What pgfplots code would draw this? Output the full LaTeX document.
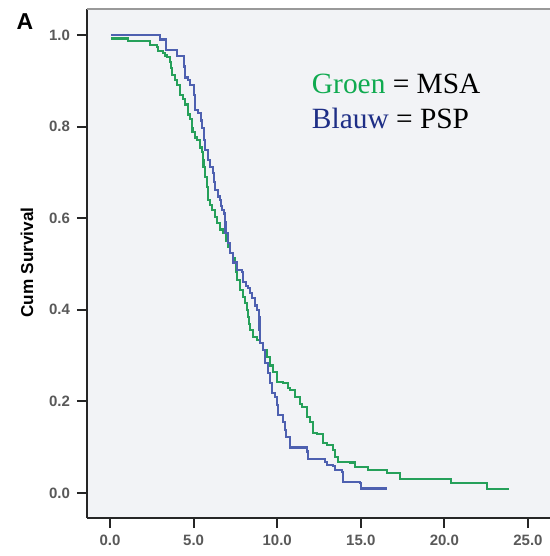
\documentclass[border=0pt]{standalone}
\usepackage{fontspec}
\setmainfont{Liberation Sans}
\newfontfamily\timesfont{Liberation Serif}
\usepackage{pgfplots}
\pgfplotsset{compat=1.18}

\definecolor{msagreen}{RGB}{38,160,90}
\definecolor{pspblue}{RGB}{78,96,176}
\definecolor{txtgreen}{RGB}{16,170,80}
\definecolor{txtblue}{RGB}{30,46,134}
\definecolor{plotbg}{RGB}{242,243,246}

% time (years), cumulative survival
\pgfplotstableread{
t S
0.06 0.993
1.08 0.987
2.39 0.978
2.81 0.974
2.87 0.965
3.17 0.961
3.29 0.956
3.41 0.952
3.59 0.941
3.65 0.928
3.71 0.913
3.89 0.902
4.01 0.891
4.19 0.869
4.37 0.860
4.49 0.849
4.67 0.827
4.78 0.817
4.90 0.797
4.93 0.788
5.08 0.777
5.20 0.771
5.38 0.755
5.50 0.745
5.56 0.727
5.59 0.712
5.68 0.690
5.80 0.668
5.86 0.640
5.98 0.629
6.10 0.618
6.28 0.603
6.40 0.590
6.58 0.576
6.76 0.568
6.94 0.552
7.06 0.537
7.18 0.524
7.36 0.513
7.48 0.502
7.54 0.483
7.60 0.465
7.78 0.443
7.95 0.428
8.07 0.415
8.19 0.400
8.25 0.384
8.31 0.369
8.37 0.356
8.55 0.341
8.79 0.334
8.97 0.328
9.15 0.312
9.39 0.297
9.57 0.279
9.75 0.264
9.99 0.242
10.35 0.240
10.65 0.229
10.77 0.225
11.06 0.210
11.36 0.194
11.48 0.188
11.78 0.166
11.96 0.155
12.14 0.131
12.38 0.129
12.74 0.109
12.98 0.105
13.34 0.094
13.46 0.079
13.64 0.068
14.35 0.066
14.65 0.057
15.43 0.050
16.57 0.044
17.34 0.031
20.39 0.022
22.55 0.009
23.86 0.009
}\msa

\pgfplotstableread{
t S
0.06 1.000
2.99 0.991
3.35 0.967
4.01 0.954
4.43 0.932
4.49 0.908
4.67 0.902
4.78 0.891
5.02 0.869
5.08 0.836
5.26 0.830
5.44 0.814
5.50 0.797
5.62 0.771
5.68 0.749
5.86 0.727
5.98 0.712
6.16 0.699
6.22 0.679
6.28 0.662
6.46 0.648
6.58 0.640
6.64 0.627
6.70 0.618
6.82 0.611
6.88 0.592
6.91 0.568
7.06 0.546
7.18 0.524
7.36 0.504
7.60 0.487
7.89 0.483
7.95 0.461
8.13 0.452
8.25 0.448
8.37 0.437
8.49 0.426
8.67 0.410
8.79 0.400
8.91 0.384
8.94 0.356
8.97 0.328
9.15 0.312
9.27 0.284
9.45 0.262
9.57 0.240
9.69 0.218
9.87 0.210
9.99 0.192
10.05 0.170
10.35 0.155
10.47 0.138
10.53 0.122
10.77 0.100
11.78 0.090
11.84 0.074
12.86 0.068
12.98 0.061
13.34 0.059
13.46 0.050
13.88 0.046
13.94 0.024
14.95 0.022
15.01 0.010
16.57 0.010
}\psp

\begin{document}
\begin{tikzpicture}
\begin{axis}[
  scale only axis,
  width=231.5pt,
  height=254.5pt,
  xmin=-1.376, xmax=26.32,
  ymin=-0.0546, ymax=1.057,
  axis lines=left,
  axis line style={-, line width=1.4pt, color=black!85},
  axis background/.style={fill=plotbg},
  tick align=outside,
  major tick length=5pt,
  tick style={line width=1pt, color=black!85},
  xtick={0,5,10,15,20,25},
  ytick={0,0.2,0.4,0.6,0.8,1.0},
  /pgf/number format/assume math mode=true,
  /pgf/number format/.cd, fixed, fixed zerofill, precision=1,
  /pgfplots/.cd,
  ticklabel style={font=\fontsize{7.5}{9}\selectfont\bfseries, color=black!65},
  ylabel={Cum Survival},
  every axis y label/.style={at={(axis description cs:-0.1296,0.502)}, rotate=90, anchor=center,
    font=\fontsize{8.6}{10}\selectfont\bfseries},
  clip mode=individual,
]
\addplot[const plot, color=msagreen, line width=1.3pt] table[x=t, y=S] {\msa};
\addplot[const plot, color=pspblue, line width=1.3pt] table[x=t, y=S] {\psp};
\draw[black!40, line width=1pt] (rel axis cs:0,1) -- (rel axis cs:1,1);
\node[anchor=base west, font=\timesfont\fontsize{14.7}{17}\selectfont] at (axis cs:11.66,0.873)
  {\textcolor{txtgreen}{Groen} = MSA};
\node[anchor=base west, font=\timesfont\fontsize{14.7}{17}\selectfont] at (axis cs:11.66,0.797)
  {\textcolor{txtblue}{Blauw} = PSP};
\node[font=\fontsize{11.5}{13}\selectfont\bfseries] at (axis description cs:-0.134,0.9745) {A};
\end{axis}
\pgfresetboundingbox
\path (-43.5pt,-19pt) rectangle (231.5pt,259pt);
\end{tikzpicture}
\end{document}
